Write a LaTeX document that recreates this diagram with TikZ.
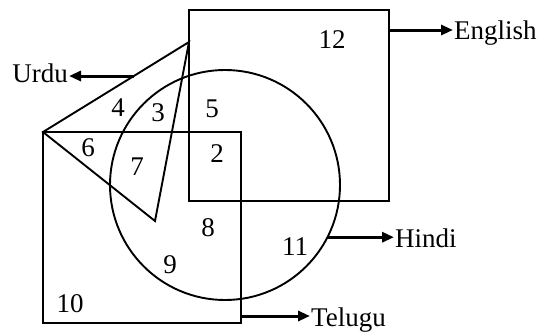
\documentclass[tikz,border=0pt]{standalone}
\usepackage{fontspec}
\setmainfont{Liberation Serif}
\usepackage{tikz}
\usetikzlibrary{arrows.meta, positioning, calc}

\begin{document}
\begin{tikzpicture}[
    x=1pt, y=-1pt,
    set/.style={draw, line width=1.9pt, inner sep=0pt, outer sep=0pt},
    region/.style={font=\fontsize{27}{29}\selectfont, inner sep=0pt},
    tag/.style={font=\fontsize{27}{29}\selectfont, inner sep=1pt},
    arrow/.style={-{Triangle[length=12pt, width=10pt]}, line width=3pt},
]
\useasboundingbox (0,0) rectangle (539,333);

% sets
\node[set, minimum width=200pt, minimum height=191pt] (english) at (289,105.5) {};
\node[set, minimum width=198pt, minimum height=191pt] (telugu) at (142,227.5) {};
\node[set, circle, minimum size=230pt] (hindi) at (225,185) {};
\coordinate (ua) at (189,42);
\coordinate (ub) at (43,132);
\coordinate (uc) at (155,221);
\draw[line width=1.9pt, line join=miter] (ua) -- (ub) -- (uc) -- cycle;

% region numbers
\node[region] (r2)  at (217,154) {2};
\node[region] (r3)  at (158,113) {3};
\node[region] (r4)  at (118,108) {4};
\node[region] (r5)  at (212,109) {5};
\node[region] (r6)  at (88,148)  {6};
\node[region] (r7)  at (137,167) {7};
\node[region] (r8)  at (208,228) {8};
\node[region] (r9)  at (170,265) {9};
\node[region] (r10) at (70,304)  {10};
\node[region] (r11) at (295,247) {11};
\node[region] (r12) at (332,40)  {12};

% language labels
\node[tag, anchor=base east] (urdu)   at (69,82)   {Urdu};
\node[tag, anchor=base west] (eng)    at (453,39)  {English};
\node[tag, anchor=base west] (hin)    at (394,247) {Hindi};
\node[tag, anchor=base west] (tel)    at (310,326) {Telugu};

% pointers
\coordinate (urduOut) at ($(ua)!0.378!(ub)$);
\coordinate (engOut)  at (389,30);
\coordinate (telOut)  at (241,316);
\draw[arrow] (urduOut) -- (urduOut -| urdu.east);
\draw[arrow] (engOut) -- (engOut -| eng.west);
\draw[arrow] (hindi.-27) -- (hindi.-27 -| hin.west);
\draw[arrow] (telOut) -- (telOut -| tel.west);

\end{tikzpicture}
\end{document}
